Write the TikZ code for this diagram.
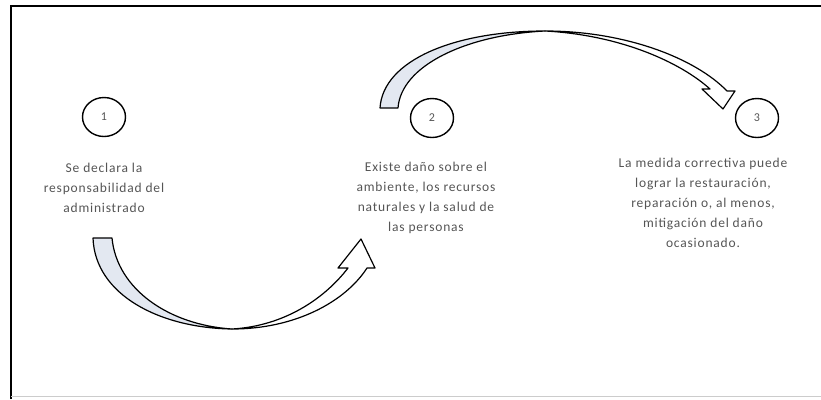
\documentclass[tikz,border=0pt]{standalone}
\usepackage{fontspec}
\setmainfont{Carlito}
\usetikzlibrary{positioning,shapes.geometric}
\definecolor{ribbon}{HTML}{E3E8F1}
\definecolor{txtgray}{HTML}{555555}

\begin{document}
\begin{tikzpicture}[x=1pt,y=-1pt,
    stage/.style={ellipse,draw,line width=1.4pt,minimum width=43pt,minimum height=39pt,
      inner sep=0pt,font=\fontsize{12}{14}\selectfont,text=txtgray},
    caption/.style={align=center,inner sep=0pt,text=txtgray,
      font=\addfontfeatures{LetterSpace=6}\fontsize{13.5}{20}\selectfont},
    band/.style={draw,line width=1.2pt,line join=round}
  ]
    \useasboundingbox (0,0) rectangle (821,399);
    % frame
    \draw[line width=2.5pt] (11,399) |- (821,6);
    \draw[gray!40,line width=1pt] (11,396) -- (821,396);

    \node[stage] (n1) at (104,117) {1};
    \node[stage] (n2) at (432,118) {2};
    \node[stage] (n3) at (757,118) {3};

    \node[caption] (c1) [below=26pt of n1] {Se declara la\\responsabilidad del\\administrado};
    \node[caption] (c2) [below=24pt of n2, xshift=-6pt] {Existe daño sobre el\\ambiente, los recursos\\naturales y la salud de\\las personas};
    \node[caption] (c3) [below=20pt of n3, xshift=-54pt] {La medida correctiva puede\\lograr la restauración,\\reparación o, al menos,\\mitigación del daño\\ocasionado.};

    % lower arrow, 1 to 2
    \filldraw[band,fill=ribbon] (93,238) .. controls (95,295) and (160,328) .. (232,329)
      .. controls (170,325) and (117,290) .. (112,238) -- cycle;
    \filldraw[band,fill=white] (232,329) .. controls (295,329) and (345,302) .. (367,268)
      -- (375,268) -- (361,239) -- (338,268) -- (348,268)
      .. controls (325,298) and (285,326) .. (232,329) -- cycle;

    % upper arrow, 2 to 3
    \filldraw[band,fill=ribbon] (380,108) .. controls (383,60) and (455,31) .. (545,31)
      .. controls (465,35) and (401,66) .. (398,108) -- cycle;
    \filldraw[band,fill=white] (545,31) .. controls (625,31) and (695,58) .. (727,91)
      -- (735,91) -- (723,109) -- (702,89) -- (710,89)
      .. controls (680,62) and (620,35) .. (545,31) -- cycle;
\end{tikzpicture}
\end{document}
